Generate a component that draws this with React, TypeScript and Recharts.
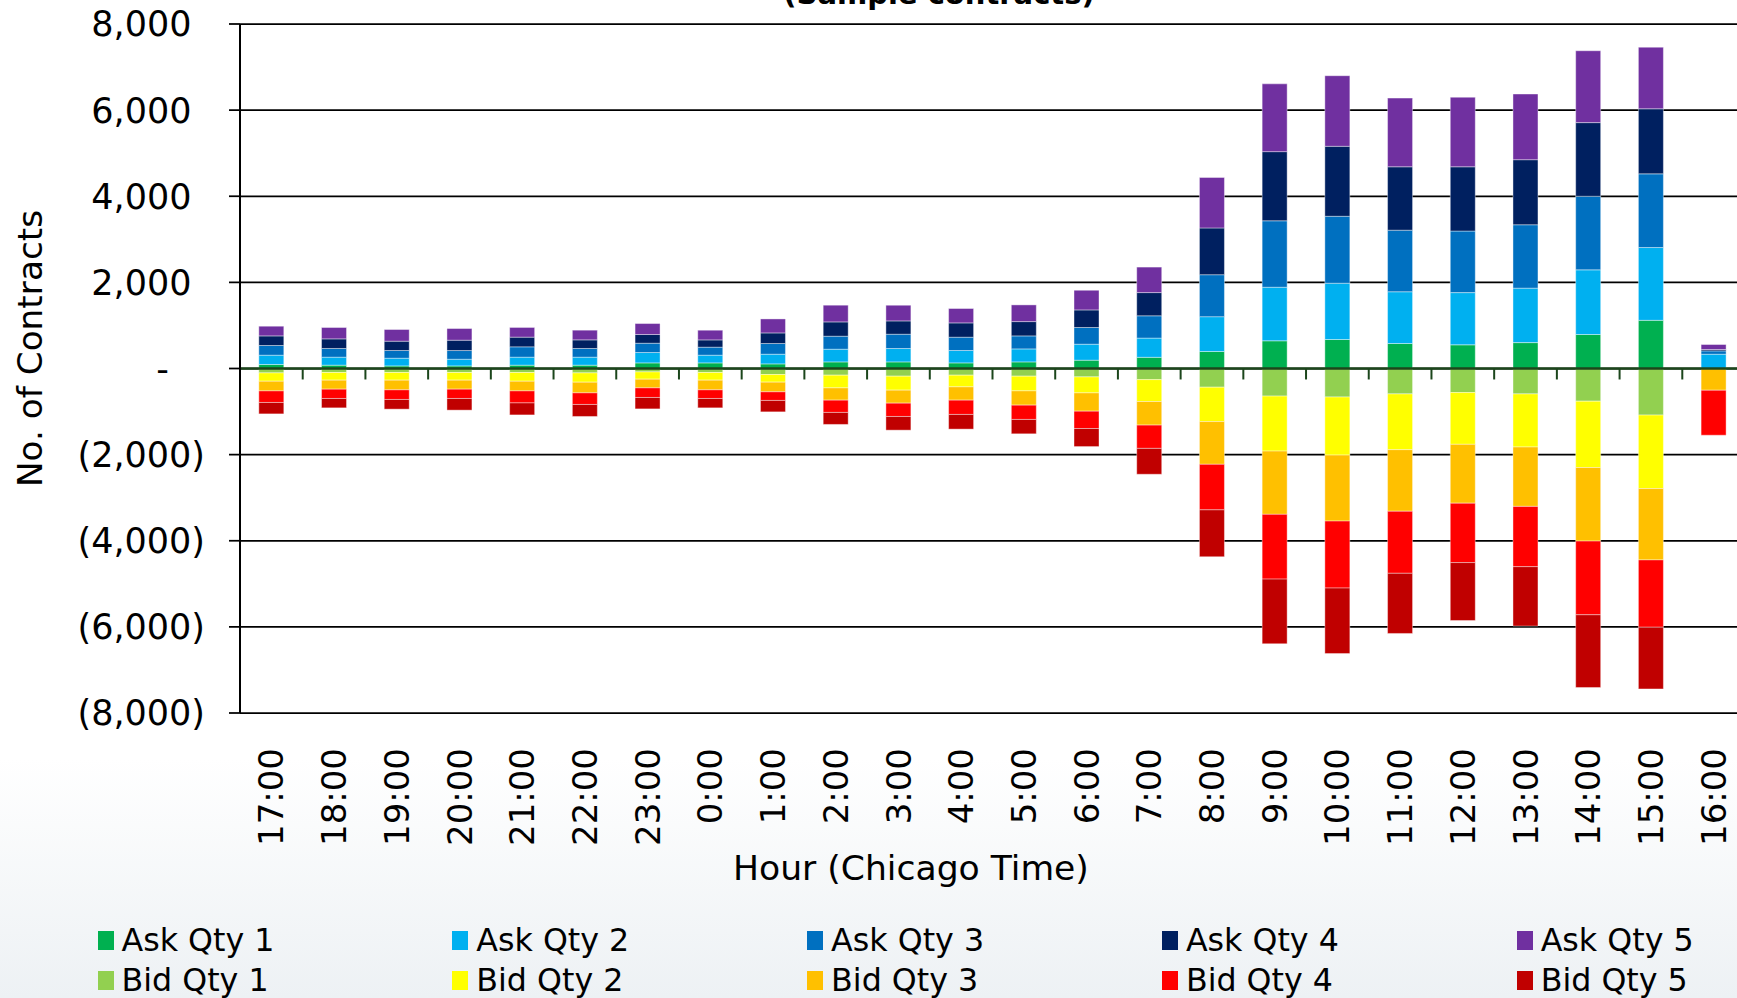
import React from "react";
import { BarChart, Bar, XAxis, YAxis, CartesianGrid, ReferenceLine, Legend } from "recharts";

// ---------- data ----------
const hours = [
  "17:00", "18:00", "19:00", "20:00", "21:00", "22:00", "23:00", "0:00",
  "1:00", "2:00", "3:00", "4:00", "5:00", "6:00", "7:00", "8:00",
  "9:00", "10:00", "11:00", "12:00", "13:00", "14:00", "15:00", "16:00",
];

const askQty1 = [93, 77, 60, 60, 77, 77, 130, 130, 107, 153, 153, 130, 153, 193, 260, 395, 643, 673, 580, 550, 601, 789, 1119, 0];
const askQty2 = [216, 186, 179, 155, 186, 186, 241, 179, 225, 295, 311, 288, 302, 371, 446, 808, 1244, 1307, 1202, 1212, 1265, 1502, 1690, 332];
const askQty3 = [225, 202, 179, 202, 240, 202, 216, 186, 248, 302, 332, 309, 302, 388, 518, 975, 1543, 1555, 1430, 1430, 1472, 1708, 1711, 77];
const askQty4 = [223, 223, 216, 240, 225, 200, 202, 169, 246, 332, 309, 332, 332, 408, 539, 1086, 1606, 1625, 1472, 1492, 1511, 1711, 1511, 32];
const askQty5 = [225, 264, 271, 271, 225, 225, 255, 225, 325, 388, 364, 334, 388, 457, 592, 1172, 1574, 1639, 1595, 1615, 1525, 1669, 1430, 116];

const bidQty1 = [102, 93, 93, 93, 93, 102, 79, 93, 139, 155, 178, 155, 178, 195, 258, 434, 641, 662, 590, 559, 590, 759, 1082, 0];
const bidQty2 = [193, 178, 178, 178, 202, 216, 169, 178, 178, 295, 325, 271, 341, 371, 508, 798, 1277, 1349, 1295, 1202, 1233, 1541, 1706, 0];
const bidQty3 = [225, 209, 225, 209, 225, 248, 202, 225, 225, 285, 302, 309, 332, 425, 548, 993, 1469, 1532, 1430, 1367, 1379, 1708, 1657, 505];
const bidQty4 = [269, 216, 223, 216, 279, 269, 223, 200, 200, 285, 309, 332, 332, 402, 541, 1058, 1504, 1555, 1441, 1379, 1400, 1711, 1564, 1044];
const bidQty5 = [265, 218, 225, 271, 279, 279, 265, 218, 265, 279, 318, 341, 334, 420, 601, 1089, 1502, 1523, 1397, 1346, 1379, 1690, 1432, 0];

const seriesKeys = ["ask1", "ask2", "ask3", "ask4", "ask5", "bid1", "bid2", "bid3", "bid4", "bid5"];
const seriesNames = ["Ask Qty 1", "Ask Qty 2", "Ask Qty 3", "Ask Qty 4", "Ask Qty 5", "Bid Qty 1", "Bid Qty 2", "Bid Qty 3", "Bid Qty 4", "Bid Qty 5"];
const seriesColors = ["#00B050", "#00B0F0", "#0070C0", "#002060", "#7030A0", "#92D050", "#FFFF00", "#FFC000", "#FF0000", "#C00000"];

const yTicks = [-8000, -6000, -4000, -2000, 0, 2000, 4000, 6000, 8000];

const chartTitle = "(Sample contracts)";
const xTitle = "Hour (Chicago Time)";
const yTitle = "No. of Contracts";

const data = hours.map((hour, i) => ({
  hour,
  ask1: askQty1[i],
  ask2: askQty2[i],
  ask3: askQty3[i],
  ask4: askQty4[i],
  ask5: askQty5[i],
  bid1: -bidQty1[i],
  bid2: -bidQty2[i],
  bid3: -bidQty3[i],
  bid4: -bidQty4[i],
  bid5: -bidQty5[i],
}));

// ---------- styles ----------
const FONT = "'DejaVu Sans', Verdana, sans-serif";
const AXIS_GREEN = "#1c461c";
const TICK_UNITS = 255; // length of zero-axis tick marks, in value units

function withCommas(n: number) {
  return String(Math.round(n)).replace(/\B(?=(\d{3})+(?!\d))/g, ",");
}
function fmt(v: number) {
  if (v === 0) return "-";
  const s = withCommas(Math.abs(v));
  return v < 0 ? `(${s})` : s;
}

const YTick = (props: any) => {
  const { x, y, payload } = props;
  const v = payload.value as number;
  const shift = v < 0 ? 0 : v === 0 ? 36 : 13.5;
  return (
    <text x={x - shift} y={y} dy="0.355em" textAnchor="end" fontFamily={FONT} fontSize={35} fill="#000">
      {fmt(v)}
    </text>
  );
};

const XTick = (props: any) => {
  const { x, y, payload } = props;
  return (
    <text
      x={x}
      y={y}
      transform={`rotate(-90, ${x}, ${y})`}
      dy="0.355em"
      textAnchor="end"
      fontFamily={FONT}
      fontSize={34}
      fill="#000"
    >
      {payload.value}
    </text>
  );
};

const XTitle = () => (
  <text x={733} y={880} textAnchor="start" fontFamily={FONT} fontSize={34.6} fill="#000">
    {xTitle}
  </text>
);

const YTitle = () => (
  <text
    x={0}
    y={0}
    transform="translate(41.5, 348.5) rotate(-90)"
    textAnchor="middle"
    fontFamily={FONT}
    fontSize={34.3}
    fill="#000"
  >
    {yTitle}
  </text>
);

const LegendBox = (props: any) => {
  const payload = (props.payload || []) as any[];
  return (
    <div style={{ position: "relative", width: 1737, height: 92, fontFamily: FONT }}>
      {payload.map((item, i) => {
        const row = Math.floor(i / 5);
        const col = i % 5;
        return (
          <div
            key={item.value}
            style={{
              position: "absolute",
              left: 97.5 + col * 354.8,
              top: 21 + row * 39.5,
              height: 27,
              display: "flex",
              alignItems: "center",
              whiteSpace: "nowrap",
            }}
          >
            <span style={{ display: "inline-block", width: 16, height: 19, background: item.color, marginRight: 8 }} />
            <span style={{ fontSize: 31.7, lineHeight: "27px", color: "#000" }}>{item.value}</span>
          </div>
        );
      })}
    </div>
  );
};

export default function App() {
  return (
    <div
      style={{
        position: "relative",
        width: 1737,
        height: 998,
        overflow: "hidden",
        background: "linear-gradient(180deg, #ffffff 0%, #ffffff 76%, #edf1f4 100%)",
        fontFamily: FONT,
      }}
    >
      <style>{`html,body{margin:0;padding:0;overflow:hidden;}`}</style>
      <BarChart
        width={1760}
        height={998}
        data={data}
        stackOffset="sign"
        barCategoryGap="30%"
        margin={{ top: 24, right: 15, bottom: 0, left: 0 }}
      >
        <CartesianGrid vertical={false} stroke="#000" strokeWidth={1.75} />
        <XAxis
          dataKey="hour"
          interval={0}
          axisLine={false}
          tickLine={false}
          tickSize={0}
          tickMargin={35}
          height={193}
          tick={<XTick />}
          label={<XTitle />}
        />
        <YAxis
          type="number"
          domain={[-8000, 8000]}
          ticks={yTicks}
          interval={0}
          width={240}
          axisLine={{ stroke: "#000", strokeWidth: 2 }}
          tickLine={{ stroke: "#000", strokeWidth: 1.75 }}
          tickSize={11}
          tickMargin={24}
          tick={<YTick />}
          label={<YTitle />}
        />
        <Legend verticalAlign="bottom" content={<LegendBox />} wrapperStyle={{ left: 0, bottom: 0, width: 1737 }} />
        {seriesKeys.map((k, i) => (
          <Bar
            key={k}
            dataKey={k}
            name={seriesNames[i]}
            stackId="book"
            fill={seriesColors[i]}
            stroke="#ffffff"
            strokeOpacity={0.4}
            strokeWidth={1}
            isAnimationActive={false}
          />
        ))}
        <ReferenceLine y={0} stroke={AXIS_GREEN} strokeWidth={2.5} />
        {hours.map((h) => (
          <ReferenceLine
            key={`t-${h}`}
            segment={[{ x: h, y: 0 }, { x: h, y: -TICK_UNITS }]}
            position="start"
            stroke={AXIS_GREEN}
            strokeWidth={2}
            ifOverflow="visible"
          />
        ))}
      </BarChart>
      <svg width={1737} height={30} style={{ position: "absolute", left: 0, top: 0, pointerEvents: "none" }}>
        <text x={939} y={3.5} textAnchor="middle" fontFamily={FONT} fontWeight="bold" fontSize={29} fill="#000">
          {chartTitle}
        </text>
      </svg>
    </div>
  );
}
